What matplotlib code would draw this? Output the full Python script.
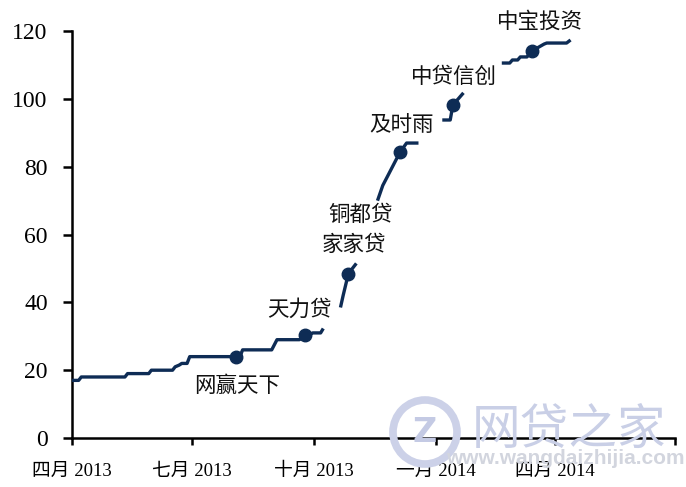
import numpy as np
import pandas as pd
import matplotlib
matplotlib.use('Agg')
import matplotlib.pyplot as plt
from matplotlib.patches import Circle

plt.rcParams['font.family'] = ['Liberation Serif', 'Noto Sans CJK SC']

# cumulative count of problem platforms; None = gap
dates = ['2013-04-01', '2013-04-06', '2013-04-08', '2013-05-11', '2013-05-13',
         '2013-05-29', '2013-05-31', '2013-06-16', '2013-06-18', '2013-06-21',
         '2013-06-23', '2013-06-27', '2013-06-29', '2013-08-06', '2013-08-08',
         '2013-08-30', '2013-09-03', '2013-09-20', '2013-09-24', '2013-09-28',
         '2013-09-30', '2013-10-06', '2013-10-08',
         '2013-10-14',
         '2013-10-21', '2013-10-23', '2013-10-27', '2013-11-02',
         '2013-11-10',
         '2013-11-18', '2013-11-22', '2013-11-26', '2013-12-05', '2013-12-10', '2013-12-19',
         '2013-12-28',
         '2014-01-06', '2014-01-12', '2014-01-13', '2014-01-14', '2014-01-18', '2014-01-22',
         '2014-02-10',
         '2014-02-20', '2014-02-26', '2014-02-28', '2014-03-04', '2014-03-06',
         '2014-03-11', '2014-03-15', '2014-03-24', '2014-03-26', '2014-04-10',
         '2014-04-13']
values = [17, 17, 18, 18, 19,
          19, 20, 20, 21, 21.5,
          22, 22, 24, 24, 26,
          26, 29, 29, 30.3, 30.5,
          31, 31, 32.3,
          None,
          38.5, 42, 48.5, 51.5,
          None,
          70, 74.5, 77.5, 84.3, 87, 87,
          None,
          93.8, 93.8, 96, 98.3, 100, 101.8,
          None,
          110.6, 110.6, 111.5, 111.5, 112.4,
          112.4, 114.2, 116.2, 116.5, 116.5,
          117.4]

# highlighted platforms: name, marker date/value, label centre (date, value)
names = ['网赢天下', '天力贷', '家家贷', '铜都贷', '及时雨', '中贷信创', '中宝投资']
mark_dates = ['2013-08-03', '2013-09-24', '2013-10-27', None, '2013-12-05',
              '2014-01-14', '2014-03-15']
mark_values = [24, 30.3, 48.5, None, 84.3, 98.3, 114.2]
label_dates = ['2013-08-04', '2013-09-20', '2013-10-31', '2013-11-05', '2013-12-06',
               '2014-01-15', '2014-03-21']
label_values = [15.3, 37.8, 57.0, 65.8, 92.3, 106.5, 122.7]

xtick_dates = ['2013-04-01', '2013-07-01', '2013-10-01', '2014-01-01', '2014-04-01', '2014-07-01']
xtick_labels = ['四月 2013', '七月 2013', '十月 2013', '一月 2014', '四月 2014', '']

navy = '#0e2c55'

fig = plt.figure(figsize=(6.86, 4.87), dpi=100)

# watermark (drawn first, behind everything)
fig.patches.append(Circle((4.25, 0.55), 0.32, transform=fig.dpi_scale_trans,
                          facecolor='none', edgecolor='#ccd1e8', lw=5.5, zorder=0))
fig.text(425 / 686, 55 / 487, 'Z', ha='center', va='center', fontsize=24,
         color='#c4cae4', family=['DejaVu Sans'], fontweight='bold', zorder=0)
fig.text(569 / 686, 57 / 487, '网贷之家', ha='center', va='center', fontsize=35,
         color='#c9cfe6', family=['Noto Sans CJK SC'], zorder=0)
fig.text(565 / 686, 29 / 487, 'www.wangdaizhijia.com', ha='center', va='center',
         fontsize=15, color='#d2d5de', family=['Liberation Sans'], fontweight='bold', zorder=0)

ax = fig.add_axes([0.105, 0.1006, 0.879, 0.8354])
ax.patch.set_alpha(0)

x = pd.to_datetime(dates)
y = np.array([np.nan if v is None else v for v in values], dtype=float)
ax.plot(x, y, color=navy, lw=2.4, solid_capstyle='butt', zorder=3)

for d, v in zip(mark_dates, mark_values):
    if d is None:
        continue
    ax.plot(pd.to_datetime(d), v, 'o', color=navy, ms=9, zorder=4)

for n, d, v in zip(names, label_dates, label_values):
    ax.text(pd.to_datetime(d), v, n, ha='center', va='center', fontsize=15.5,
            family=['Noto Sans CJK SC'], color='#111111')

ax.set_xlim(pd.Timestamp('2013-04-01'), pd.Timestamp('2014-07-01'))
ax.set_ylim(0, 120)
ax.set_yticks([0, 20, 40, 60, 80, 100, 120])
ax.set_xticks(pd.to_datetime(xtick_dates))
ax.set_xticklabels(xtick_labels)

for s in ['top', 'right']:
    ax.spines[s].set_visible(False)
for s in ['left', 'bottom']:
    ax.spines[s].set_linewidth(1.8)
    ax.spines[s].set_color('black')
ax.tick_params(axis='y', length=6.5, width=1.8, pad=11, labelsize=17)
ax.tick_params(axis='x', length=5, width=1.8, pad=13, labelsize=13.5)

fig.savefig('out.png', dpi=100)
